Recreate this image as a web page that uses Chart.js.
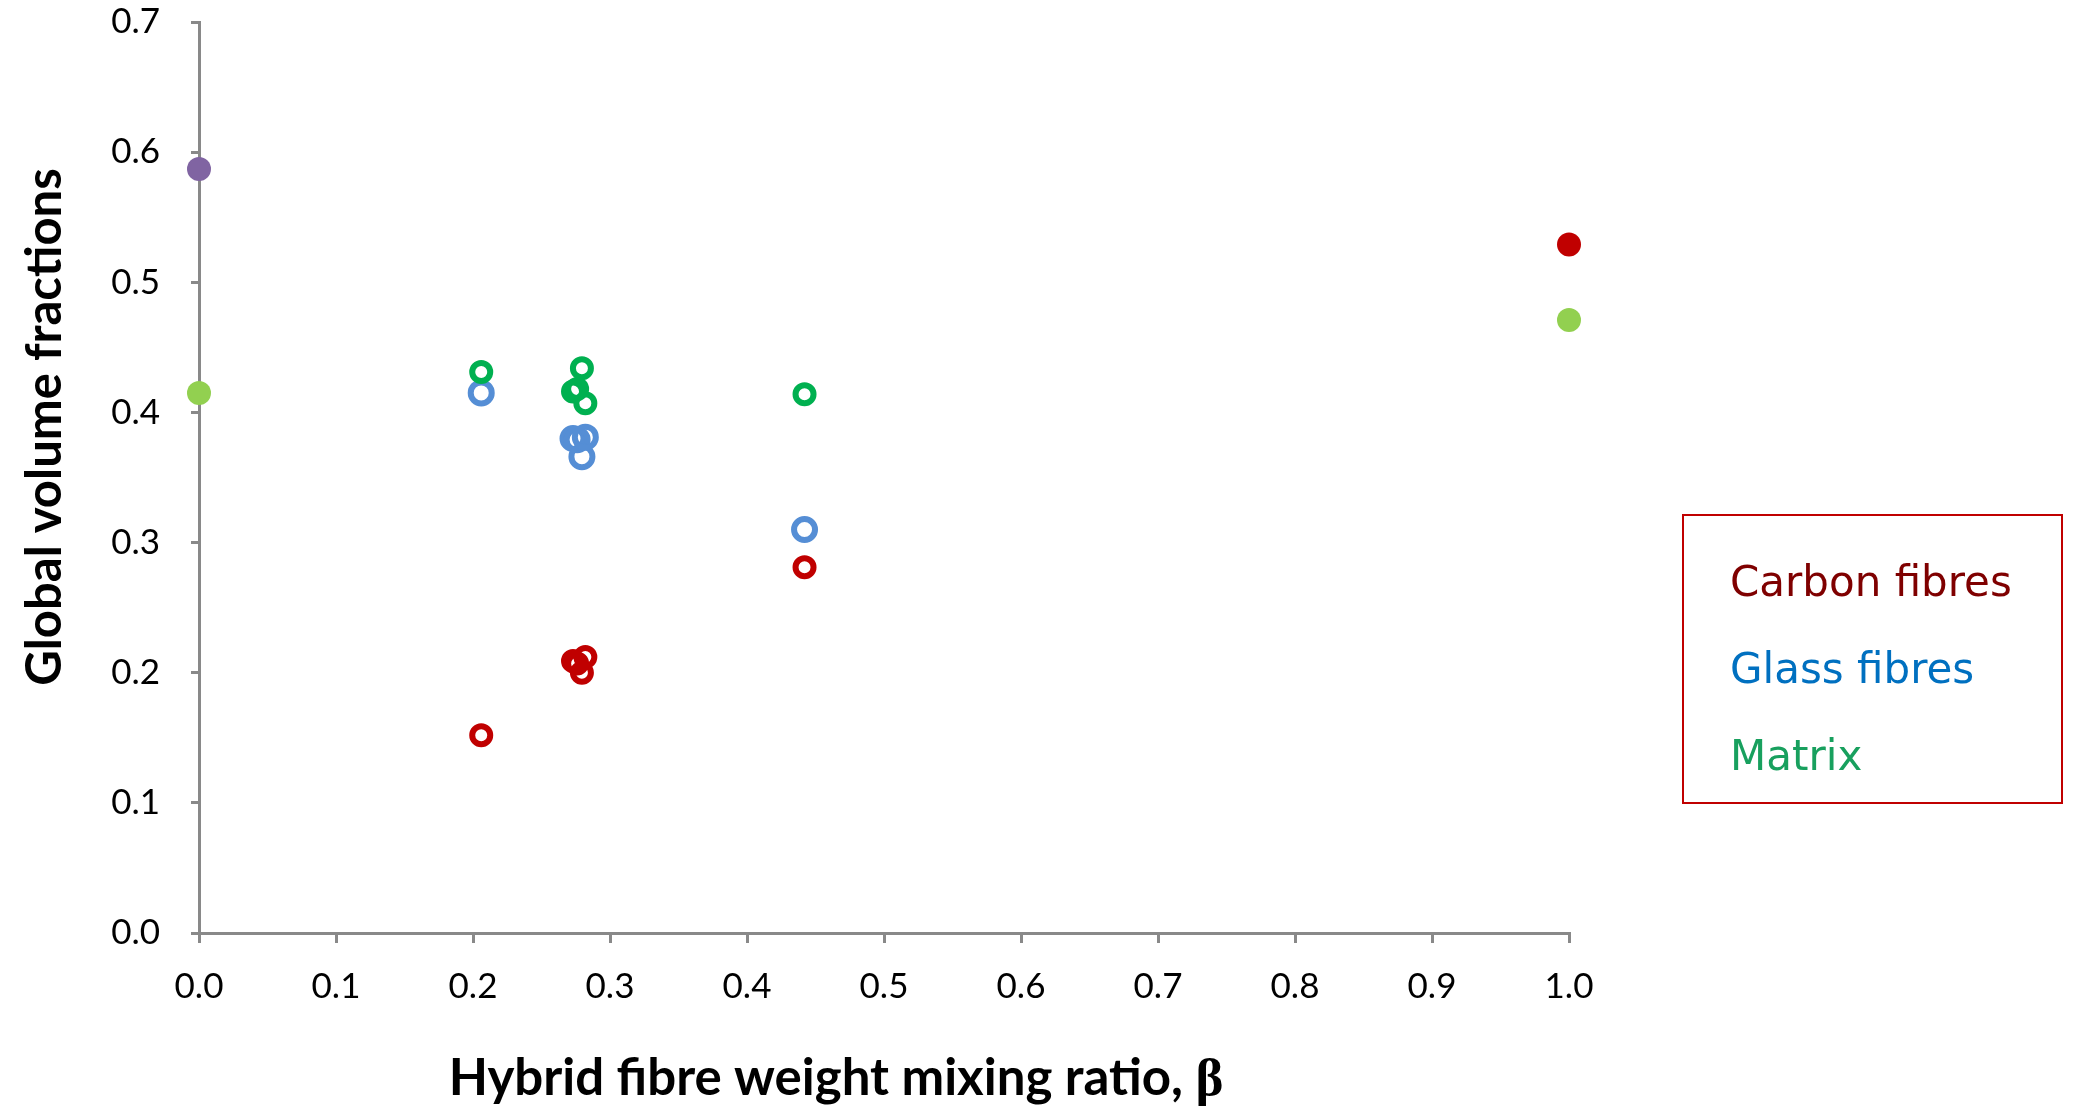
<!DOCTYPE html>
<html>
<head>
<meta charset="utf-8">
<script src="https://cdn.jsdelivr.net/npm/chart.js@4/dist/chart.umd.min.js"></script>
<style>
  html, body { margin: 0; padding: 0; background: #fff; }
  #wrap { width: 2075px; height: 1107px; position: relative; }
</style>
</head>
<body>
<div id="wrap"><canvas id="fractionsChart"></canvas></div>
<script>
// Hybrid samples: weight mixing ratio and measured global volume fractions
const betaHybrid   = [0.206, 0.273, 0.276, 0.2795, 0.282, 0.442];
const carbonHybrid = [0.152, 0.209, 0.207, 0.200, 0.212, 0.281];
const glassHybrid  = [0.415, 0.380, 0.379, 0.366, 0.381, 0.310];
const matrixHybrid = [0.431, 0.416, 0.418, 0.434, 0.407, 0.414];

// Non-hybrid references (pure glass at beta = 0, pure carbon at beta = 1)
const betaPure   = [0, 1];
const glassPure  = [0.587];
const carbonPure = [0.529];
const matrixPure = [0.415, 0.471];

const xTicks = [0, 0.1, 0.2, 0.3, 0.4, 0.5, 0.6, 0.7, 0.8, 0.9, 1.0];
const yTicks = [0, 0.1, 0.2, 0.3, 0.4, 0.5, 0.6, 0.7];

const legendItems  = ['Carbon fibres', 'Glass fibres', 'Matrix'];
const legendColors = ['#7f0000', '#0070c0', '#18a05e'];

function pairs(xs, ys) {
    return ys.map((y, i) => ({ x: xs[i], y: y }));
}

function openSeries(label, xs, ys, color, radius) {
    return {
        label: label,
        data: pairs(xs, ys),
        showLine: false,
        pointStyle: 'circle',
        pointRadius: radius,
        pointHoverRadius: radius,
        pointBorderWidth: 6,
        pointBackgroundColor: 'rgba(255,255,255,0)',
        pointBorderColor: color,
        clip: false
    };
}

function filledSeries(label, xs, ys, color) {
    return {
        label: label,
        data: pairs(xs, ys),
        showLine: false,
        pointStyle: 'circle',
        pointRadius: 12,
        pointHoverRadius: 12,
        pointBorderWidth: 0,
        pointBackgroundColor: color,
        pointBorderColor: color,
        clip: false
    };
}

const datasets = [
    openSeries('Matrix', betaHybrid, matrixHybrid, '#00b050', 9),
    openSeries('Glass fibres', betaHybrid, glassHybrid, '#558ed5', 10.5),
    openSeries('Carbon fibres', betaHybrid, carbonHybrid, '#c00000', 9),
    filledSeries('Glass (pure)', [betaPure[0]], glassPure, '#8064a2'),
    filledSeries('Carbon (pure)', [betaPure[1]], carbonPure, '#c00000'),
    filledSeries('Matrix (pure)', betaPure, matrixPure, '#92d050')
];

// Axis titles and boxed legend drawn by hand, as in the original figure
const decorations = {
    id: 'decorations',
    afterDraw(chart) {
        const ctx = chart.ctx;
        ctx.save();
        ctx.fillStyle = '#000';
        ctx.textBaseline = 'alphabetic';

        // x title with a serif beta
        const main = 'Hybrid fibre weight mixing ratio, ';
        ctx.font = 'bold 51px Lato';
        const w1 = ctx.measureText(main).width;
        ctx.font = 'bold 53px "Liberation Serif"';
        const w2 = ctx.measureText('β').width;
        const cx = 836;
        const x0 = cx - (w1 + w2) / 2;
        ctx.textAlign = 'left';
        ctx.font = 'bold 51px Lato';
        ctx.fillText(main, x0, 1095);
        ctx.font = 'bold 53px "Liberation Serif"';
        ctx.fillText('β', x0 + w1, 1095);

        // y title
        ctx.translate(61, 427);
        ctx.rotate(-Math.PI / 2);
        ctx.textAlign = 'center';
        ctx.font = 'bold 49px Lato';
        ctx.fillText('Global volume fractions', 0, 0);
        ctx.setTransform(1, 0, 0, 1, 0, 0);

        // legend box
        ctx.strokeStyle = '#c00000';
        ctx.lineWidth = 2;
        ctx.strokeRect(1683, 515, 379, 288);
        ctx.textAlign = 'left';
        ctx.font = '42px "DejaVu Sans"';
        legendItems.forEach((txt, i) => {
            ctx.fillStyle = legendColors[i];
            ctx.fillText(txt, 1730, 596 + i * 87);
        });
        ctx.restore();
    }
};

const axisGray = '#898989';
const ctx = document.getElementById('fractionsChart').getContext('2d');
window.fractionsChart = new Chart(ctx, {
    type: 'scatter',
    data: { datasets: datasets },
    plugins: [decorations],
    options: {
        responsive: true,
        maintainAspectRatio: false,
        animation: false,
        events: [],
        layout: { padding: { top: 22, right: 506, left: 0, bottom: 0 } },
        plugins: {
            legend: { display: false },
            tooltip: { enabled: false }
        },
        scales: {
            x: {
                type: 'linear',
                min: 0,
                max: 1,
                afterFit: (s) => { s.height = 174; s.paddingLeft = 0; s.paddingRight = 0; },
                afterBuildTicks: (s) => { s.ticks = xTicks.map(v => ({ value: v })); },
                border: { color: axisGray, width: 3 },
                grid: { drawOnChartArea: false, drawTicks: true, tickLength: 10, color: axisGray, lineWidth: 3 },
                ticks: {
                    padding: 23,
                    color: '#000',
                    font: { family: 'Lato', size: 35 },
                    maxRotation: 0,
                    callback: (v) => Number(v).toFixed(1)
                }
            },
            y: {
                type: 'linear',
                min: 0,
                max: 0.7,
                afterFit: (s) => { s.width = 199; s.paddingTop = 0; s.paddingBottom = 0; },
                afterBuildTicks: (s) => { s.ticks = yTicks.map(v => ({ value: v })); },
                border: { color: axisGray, width: 3 },
                grid: { drawOnChartArea: false, drawTicks: true, tickLength: 8, color: axisGray, lineWidth: 3 },
                ticks: {
                    padding: 31,
                    color: '#000',
                    font: { family: 'Lato', size: 35 },
                    callback: (v) => Number(v).toFixed(1)
                }
            }
        }
    }
});
</script>
</body>
</html>
